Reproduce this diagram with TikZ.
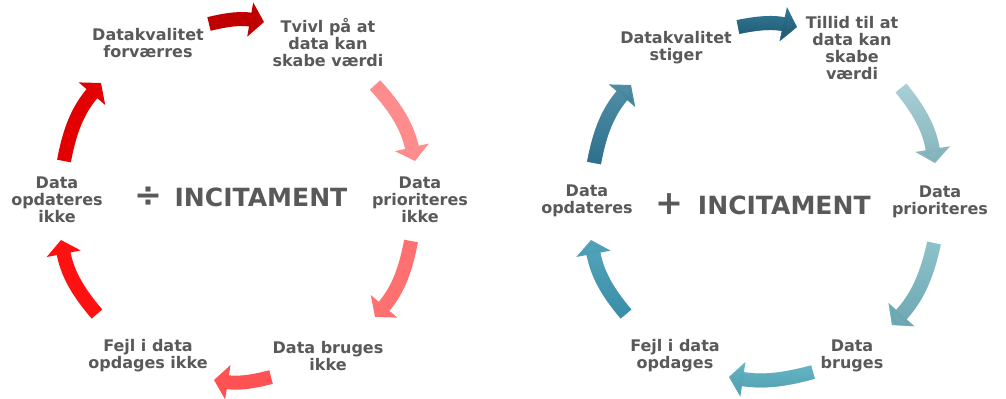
\documentclass[tikz,border=0pt]{standalone}
\usepackage{fontspec}
\setmainfont{DejaVu Sans}
\usetikzlibrary{arrows.meta,fadings}
\definecolor{txt}{HTML}{595959}
% red cycle
\definecolor{ra}{HTML}{C00000}
\definecolor{rb}{HTML}{FF8C8C}
\definecolor{rc}{HTML}{FF7171}
\definecolor{rd}{HTML}{FF5353}
\definecolor{re}{HTML}{FF1111}
\definecolor{rf}{HTML}{E20000}
% blue cycle: top and bottom tones of each arrow
\definecolor{baT}{HTML}{2F7390}\definecolor{baB}{HTML}{245E78}
\definecolor{bbT}{HTML}{AAD1D7}\definecolor{bbB}{HTML}{83B2BA}
\definecolor{bcT}{HTML}{8FC4CC}\definecolor{bcB}{HTML}{6CA6B1}
\definecolor{bdT}{HTML}{66B5C4}\definecolor{bdB}{HTML}{55A4B4}
\definecolor{beT}{HTML}{56A8BD}\definecolor{beB}{HTML}{388DA5}
\definecolor{bfT}{HTML}{5592A9}\definecolor{bfB}{HTML}{2B6D8A}
\newcommand{\signsize}{\fontsize{25}{25}\selectfont}
\begin{document}
\begin{tikzpicture}[x=0.75pt,y=-0.75pt,
  lbl/.style={font=\bfseries\fontsize{12}{12.75}\selectfont, text=txt, align=center, inner sep=0pt},
  big/.style={font=\bfseries\fontsize{18.8}{22}\selectfont, text=txt, inner sep=0pt},
  cyc/.style={line width=10.5pt, -{Triangle[width=25.5pt,length=10.5pt]}},
  shade/.style={path fading=north, draw=#1},
]
\useasboundingbox[fill=white] (0,0) rectangle (1006,399);

% ---- left cycle: labels ----
\node[lbl] (l1) at (148,43) {Datakvalitet\\forværres};
\node[lbl] (l2) at (328,43) {Tvivl på at\\data kan\\skabe værdi};
\node[lbl] (l3) at (420,200) {Data\\prioriteres\\ikke};
\node[lbl] (l4) at (328,356) {Data bruges\\ikke};
\node[lbl] (l5) at (148,356) {Fejl i data\\opdages ikke};
\node[lbl] (l6) at (57,200) {Data\\opdateres\\ikke};
\node[big] (lc) at (241,197) {{\signsize ÷}\hspace{9pt}INCITAMENT};

% ---- left cycle: arrow ends ----
\coordinate (a1s) at (209,24);  \coordinate (a1e) at (264,22);
\coordinate (a2s) at (375,85);  \coordinate (a2e) at (415,161);
\coordinate (a3s) at (411,241); \coordinate (a3e) at (375,317);
\coordinate (a4s) at (271,377); \coordinate (a4e) at (214,380);
\coordinate (a5s) at (97,314);  \coordinate (a5e) at (61,240);
\coordinate (a6s) at (64,161);  \coordinate (a6e) at (101,83);

\draw[cyc, ra] (a1s) to[bend left=12] (a1e);
\draw[cyc, rb] (a2s) to[bend left=15] (a2e);
\draw[cyc, rc] (a3s) to[bend left=15] (a3e);
\draw[cyc, rd] (a4s) to[bend left=12] (a4e);
\draw[cyc, re] (a5s) to[bend left=15] (a5e);
\draw[cyc, rf] (a6s) to[bend left=15] (a6e);

% ---- right cycle: labels ----
\node[lbl] (r1) at (676,48) {Datakvalitet\\stiger};
\node[lbl] (r2) at (852,48) {Tillid til at\\data kan\\skabe\\værdi};
\node[lbl] (r3) at (940,202) {Data\\prioriteres};
\node[lbl] (r4) at (852,356) {Data\\bruges};
\node[lbl] (r5) at (675,356) {Fejl i data\\opdages};
\node[lbl] (r6) at (587,201) {Data\\opdateres};
\node[big] (rc) at (763,204) {{\signsize +}\hspace{11pt}INCITAMENT};

% ---- right cycle: arrow ends ----
\coordinate (b1s) at (738,27);  \coordinate (b1e) at (797,27);
\coordinate (b2s) at (901,88);  \coordinate (b2e) at (935,163);
\coordinate (b3s) at (934,243); \coordinate (b3e) at (892,325);
\coordinate (b4s) at (813,372); \coordinate (b4e) at (729,377);
\coordinate (b5s) at (626,314); \coordinate (b5e) at (591,240);
\coordinate (b6s) at (594,163); \coordinate (b6e) at (631,85);

% each blue arrow: light tone underneath, darker tone fading in towards the bottom
\foreach \s/\e/\b/\c in {b1s/b1e/12/ba, b2s/b2e/15/bb, b3s/b3e/15/bc,
                         b4s/b4e/12/bd, b5s/b5e/15/be, b6s/b6e/15/bf}{
  \draw[cyc, \c T] (\s) to[bend left=\b] (\e);
  \draw[cyc, shade=\c B] (\s) to[bend left=\b] (\e);
}
\end{tikzpicture}
\end{document}
